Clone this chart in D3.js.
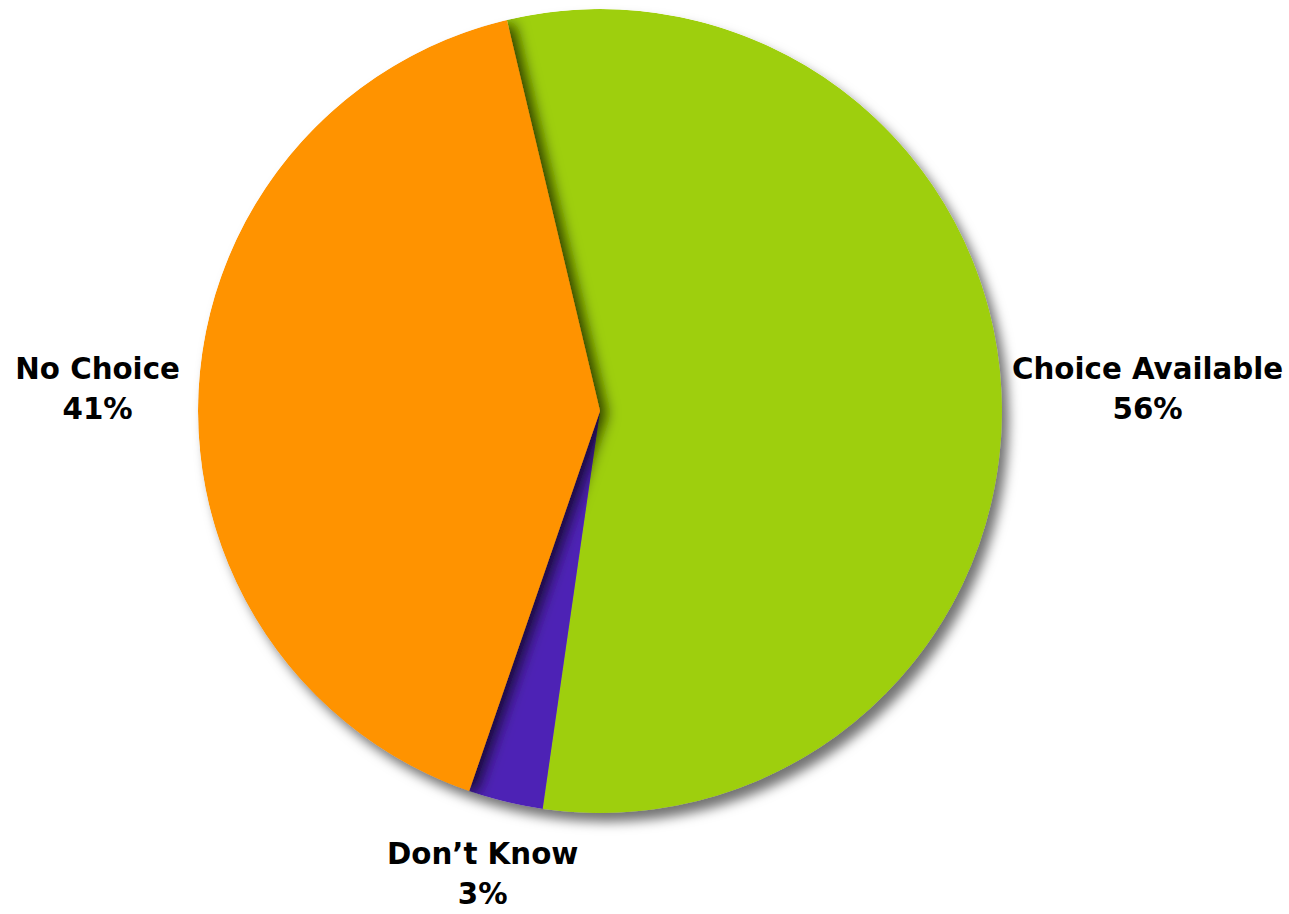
<!DOCTYPE html>
<html>
<head>
<meta charset="utf-8">
<script src="https://cdn.jsdelivr.net/npm/d3@7"></script>
<style>
  html, body { margin: 0; padding: 0; background: #ffffff; }
  svg { display: block; }
  text { font-family: "DejaVu Sans", "Noto Sans", sans-serif; font-weight: bold; fill: #000; }
</style>
</head>
<body>
<svg id="chart" width="1289" height="914"></svg>
<script>
// Survey answer share, in percent
const categories = ["Choice Available", "Don\u2019t Know", "No Choice"];
const values = [56, 3, 41];
const colors = ["#9ecf08", "#4e22b5", "#ff9300"];

const width = 1289, height = 914;
const cx = 600, cy = 411, radius = 402;
// the first slice starts a little left of twelve o'clock
const startAngle = -13.4 * Math.PI / 180;

const svg = d3.select("#chart");
const defs = svg.append("defs");

// soft shadow under the whole pie
const outer = defs.append("filter").attr("id", "pieShadow")
  .attr("x", "-10%").attr("y", "-10%").attr("width", "125%").attr("height", "125%");
outer.append("feDropShadow").attr("dx", 7).attr("dy", 9).attr("stdDeviation", 6)
  .attr("flood-color", "#000").attr("flood-opacity", 0.55);

// shadow one wedge casts over its neighbours
const inner = defs.append("filter").attr("id", "wedgeShadow")
  .attr("x", "-20%").attr("y", "-20%").attr("width", "140%").attr("height", "140%");
inner.append("feDropShadow").attr("dx", 7).attr("dy", 3).attr("stdDeviation", 7)
  .attr("flood-color", "#000").attr("flood-opacity", 0.7);

defs.append("clipPath").attr("id", "pieClip")
  .append("circle").attr("cx", 0).attr("cy", 0).attr("r", radius);

const data = categories.map((c, i) => ({ name: c, value: values[i], color: colors[i] }));

const pie = d3.pie().sort(null).value(d => d.value)
  .startAngle(startAngle).endAngle(startAngle + 2 * Math.PI);
const arcs = pie(data);
const arc = d3.arc().innerRadius(0).outerRadius(radius);

const root = svg.append("g").attr("transform", `translate(${cx},${cy})`);
const shadowed = root.append("g").attr("filter", "url(#pieShadow)");
const clipped = shadowed.append("g").attr("clip-path", "url(#pieClip)");

// the orange wedge is drawn last so its shadow falls on the others
clipped.selectAll("path")
  .data(arcs)
  .join("path")
  .attr("d", arc)
  .attr("fill", d => d.data.color)
  .attr("filter", d => d.index === 2 ? "url(#wedgeShadow)" : null);

// labels: two-line blocks pushed out along each wedge's mid angle
const lineH = 40, fontSize = 29.3;
const labels = root.append("g");
arcs.forEach(a => {
  const mid = (a.startAngle + a.endAngle) / 2;
  const ux = Math.sin(mid), uy = -Math.cos(mid);
  const g = labels.append("g");
  g.append("text").attr("text-anchor", "middle").attr("font-size", fontSize)
    .attr("x", 0).attr("y", 0).text(a.data.name);
  g.append("text").attr("text-anchor", "middle").attr("font-size", fontSize)
    .attr("x", 0).attr("y", lineH).text(d3.format(".0f")(a.data.value) + "%");
  const bb = g.node().getBBox();
  const hw = bb.width / 2, hh = bb.height / 2;
  const below = uy > 0.5;
  const gap = below ? 13 : (ux < 0 ? 17 : 9);
  const dist = radius + gap + Math.abs(ux) * hw + Math.abs(uy) * hh;
  const bx = ux * dist - (below ? 6 : 0), by = uy * dist + 3;
  // shift so the block's centre sits at (bx, by)
  const ox = bx - (bb.x + hw), oy = by - (bb.y + hh);
  g.attr("transform", `translate(${ox},${oy})`);
});
</script>
</body>
</html>
